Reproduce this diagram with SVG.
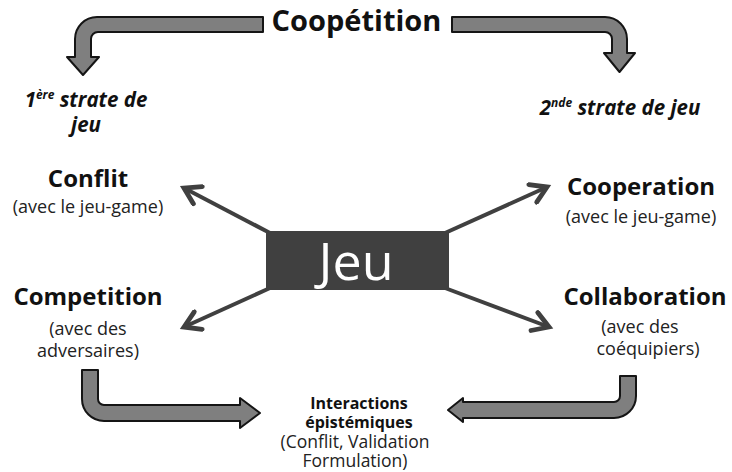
<svg xmlns="http://www.w3.org/2000/svg" width="732" height="472" viewBox="0 0 732 472">
  <defs>
    <marker id="chev" markerUnits="userSpaceOnUse" markerWidth="24" markerHeight="24" viewBox="0 0 20 20" refX="16" refY="10" orient="auto">
      <path d="M3,2 L16,10 L3,18" fill="none" stroke="#404040" stroke-width="4" stroke-linejoin="miter" stroke-linecap="round"/>
    </marker>
  </defs>
  <style>
    text { font-family: "Open Sans", "Liberation Sans", sans-serif; fill: #111; text-anchor: middle; }
    .title { font-size: 29px; font-weight: bold; }
    .head { font-size: 24px; font-weight: bold; }
    .sub { font-size: 18px; font-weight: normal; fill: #222; }
    .sub2 { font-size: 17.5px; font-weight: normal; fill: #222; }
    .strate { font-size: 20.5px; font-weight: bold; font-style: italic; }
    .sup { font-size: 12px; }
    .ibold { font-size: 16px; font-weight: bold; fill: #111; }
    .bent { fill: #7f7f7f; stroke: #151515; stroke-width: 2; stroke-linejoin: round; }
    .ray { stroke: #404040; stroke-width: 4; fill: none; marker-end: url(#chev); }
    .jeu { font-size: 52px; fill: #ffffff; }
  </style>
  <rect width="732" height="472" fill="#ffffff"/>

  <g id="connectors">
    <path class="bent" d="M263,17 H97 A22,22 0 0 0 75,39 V57 H67 L83,75 L99,57 H91 V39 A7,7 0 0 1 98,32 H263 Z"/>
    <path class="bent" d="M452,17 H605 A22,22 0 0 1 627,39 V53 H635 L619.5,72 L604,53 H612 V39 A7,7 0 0 0 605,32 H452 Z"/>
    <path class="bent" d="M82,370 V399 A22,22 0 0 0 104,421 H240 V428 L260,413 L240,398 V405 H104 A6,6 0 0 1 98,399 V370 Z"/>
    <path class="bent" d="M636,376 V396 A22,22 0 0 1 614,418 H463 V422 L448,410 L463,398 V402 H614 A6,6 0 0 0 620,396 V376 Z"/>
    <line class="ray" x1="270" y1="233" x2="184" y2="188"/>
    <line class="ray" x1="445" y1="233" x2="547" y2="187"/>
    <line class="ray" x1="270" y1="288" x2="184" y2="327"/>
    <line class="ray" x1="445" y1="288" x2="549" y2="327"/>
  </g>

  <g id="coopetition">
    <text class="title" x="356.5" y="31">Coopétition</text>
  </g>

  <g id="strate1">
    <text class="strate" x="86" y="107">1<tspan class="sup" dy="-8">ère</tspan><tspan dy="8"> strate de</tspan></text>
    <text class="strate" x="86" y="132">jeu</text>
  </g>

  <g id="strate2">
    <text class="strate" x="620" y="115">2<tspan class="sup" dy="-8">nde</tspan><tspan dy="8"> strate de jeu</tspan></text>
  </g>

  <g id="jeu">
    <rect x="266" y="231" width="183" height="59" fill="#404040"/>
    <text class="jeu" x="356" y="280">Jeu</text>
  </g>

  <g id="conflit">
    <text class="head" x="88" y="187">Conflit</text>
    <text class="sub" x="88" y="213">(avec le jeu-game)</text>
  </g>

  <g id="cooperation">
    <text class="head" x="641" y="195">Cooperation</text>
    <text class="sub" x="641" y="223">(avec le jeu-game)</text>
  </g>

  <g id="competition">
    <text class="head" x="88" y="305">Competition</text>
    <text class="sub" x="88" y="335">(avec des</text>
    <text class="sub" x="88" y="357">adversaires)</text>
  </g>

  <g id="collaboration">
    <text class="head" x="645" y="305">Collaboration</text>
    <text class="sub" x="640" y="333">(avec des</text>
    <text class="sub" x="648" y="355">coéquipiers)</text>
  </g>

  <g id="interactions">
    <text class="sub2"><tspan class="ibold" x="359" y="409">Interactions</tspan><tspan class="ibold" x="359" y="428">épistémiques</tspan><tspan x="355" y="448">(Conflit, Validation</tspan><tspan x="355" y="467">Formulation)</tspan></text>
  </g>
</svg>
